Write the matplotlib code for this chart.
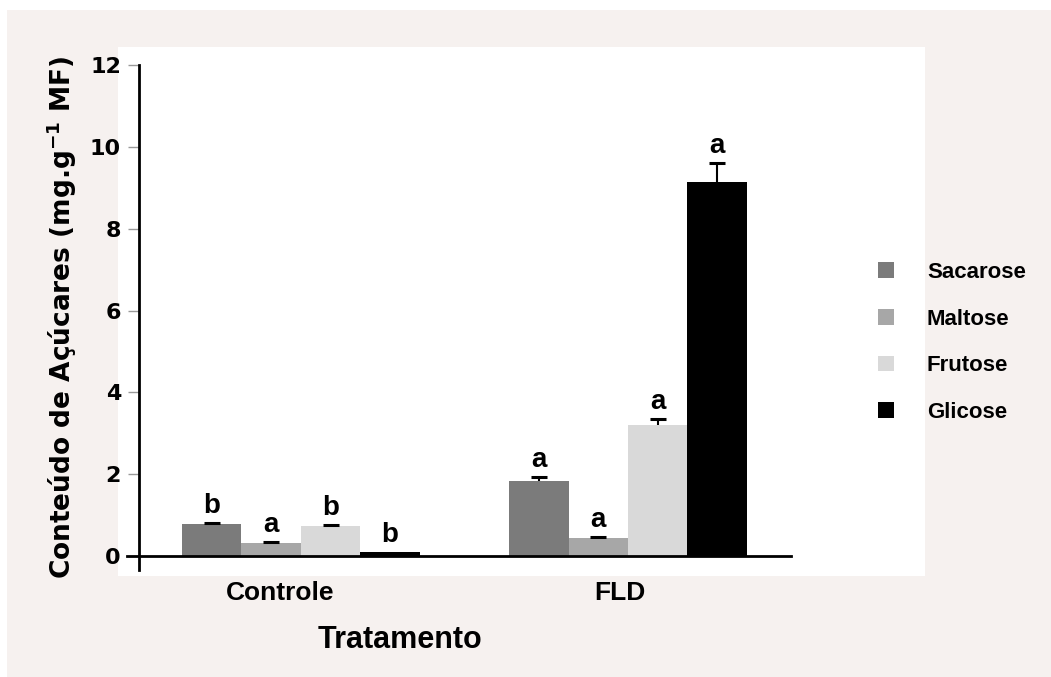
import numpy as np
import matplotlib
matplotlib.use("Agg")
import matplotlib.pyplot as plt
from matplotlib.patches import Rectangle

plt.rcParams['font.family'] = ['Liberation Sans', 'DejaVu Sans']
plt.rcParams['mathtext.fontset'] = 'custom'
plt.rcParams['mathtext.rm'] = 'DejaVu Sans'
plt.rcParams['mathtext.bf'] = 'DejaVu Sans:bold'

# dados
tratamentos = ["Controle", "FLD"]
acucares = ["Sacarose", "Maltose", "Frutose", "Glicose"]
cores = ["#7b7b7b", "#a7a7a7", "#d9d9d9", "#000000"]
controle = [0.78, 0.32, 0.73, 0.10]
controle_err = [0.02, 0.02, 0.02, 0.0]
fld = [1.83, 0.44, 3.20, 9.14]
fld_err = [0.10, 0.02, 0.15, 0.47]
letras_controle = ["b", "a", "b", "b"]
letras_fld = ["a", "a", "a", "a"]

valores = np.array([controle, fld])
erros = np.array([controle_err, fld_err])
letras = [letras_controle, letras_fld]

W, H = 1051, 677
fig = plt.figure(figsize=(W / 100, H / 100), dpi=100)
fig.patch.set_facecolor("#f6f1ef")
# margem branca e painel branco
fig.patches.append(Rectangle((0, 1 - 10 / H), 1, 10 / H, transform=fig.transFigure,
                             facecolor="white", edgecolor="none", zorder=-10))
fig.patches.append(Rectangle((0, 0), 7 / W, 1, transform=fig.transFigure,
                             facecolor="white", edgecolor="none", zorder=-10))
fig.patches.append(Rectangle((118 / W, 1 - 576 / H), (925 - 118) / W, (576 - 47) / H,
                             transform=fig.transFigure, facecolor="white",
                             edgecolor="none", zorder=-9))

ax = fig.add_axes([139 / W, 1 - 570 / H, (791 - 139) / W, (570 - 65) / H])
ax.patch.set_alpha(0)

centros = np.array([1.5, 7.0])
desloc = np.array([-1.5, -0.5, 0.5, 1.5])

for j, nome in enumerate(acucares):
    xs = centros + desloc[j]
    topo = valores[:, j] + erros[:, j]
    ax.bar(xs, valores[:, j], width=1.0, color=cores[j], edgecolor="none",
           label=nome, zorder=2)
    ax.errorbar(xs, valores[:, j], yerr=[np.zeros(2), erros[:, j]], fmt="none",
                ecolor="black", elinewidth=1.5, capsize=0, zorder=3)
    # so o traco de cima
    mask = erros[:, j] > 0
    ax.plot(xs[mask], topo[mask], ls="none", marker="_", ms=11, mew=2.2,
            color="black", zorder=3)
    for i in range(2):
        ax.annotate(letras[i][j], (xs[i], topo[i]),
                    xytext=(0, 3), textcoords="offset points", ha="center",
                    va="bottom", fontsize=20, fontweight="bold")

ax.set_xlim(-1.22, 9.74)
ax.set_ylim(-0.34, 12)

ax.plot([-1.42, 9.74], [0, 0], color="black", lw=2, clip_on=False, zorder=4)

for s in ["top", "right", "bottom"]:
    ax.spines[s].set_visible(False)
ax.spines["left"].set_linewidth(2)
ax.spines["left"].set_bounds(-0.34, 12)

ax.set_yticks(np.arange(0, 13, 2))
ax.set_yticklabels([str(v) for v in range(0, 13, 2)], fontsize=16,
                   fontweight="bold", family="DejaVu Sans")
ax.tick_params(axis="y", length=8, width=1, color="#999999", pad=5)

ax.set_xticks(centros - np.array([0.35, 0.13]))
ax.set_xticklabels(tratamentos, fontsize=19, fontweight="bold")
ax.tick_params(axis="x", length=0, pad=8)

ax.set_ylabel(r"Conteúdo de Açúcares (mg.g$\mathbf{^{-1}}$ MF)", fontsize=19,
              fontweight="bold", family="DejaVu Sans", labelpad=8)
ax.set_xlabel("Tratamento", fontsize=22, fontweight="bold", labelpad=14)
ax.xaxis.label.set_x((400 - 139) / (791 - 139))

leg = ax.legend(loc="upper left", bbox_to_anchor=(858 / W, 1 - 242 / H),
                bbox_transform=fig.transFigure, frameon=False,
                prop={"weight": "bold", "size": 16}, handlelength=0.7,
                handleheight=0.7, labelspacing=1.15, handletextpad=1.5)

fig.savefig("out.png", dpi=100, facecolor=fig.get_facecolor())
